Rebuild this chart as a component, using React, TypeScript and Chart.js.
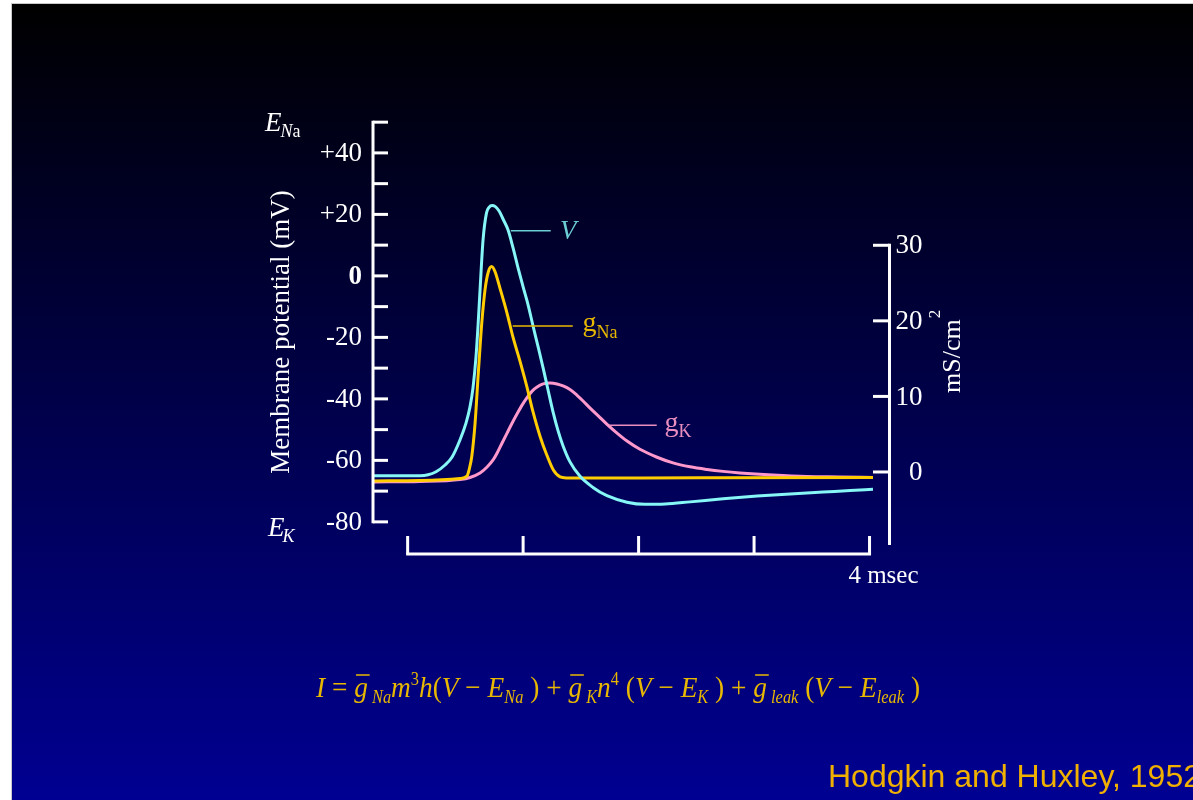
import React, { useEffect, useRef } from 'react';
import { Chart, registerables } from 'chart.js';

Chart.register(...registerables);

// ---------- data (time in msec, V in mV, conductances in mS/cm²) ----------
const vTime = [-0.30, -0.066, 0.107, 0.177, 0.246, 0.324, 0.385, 0.454, 0.506, 0.540, 0.566, 0.592, 0.610, 0.627, 0.653, 0.683, 0.705, 0.731, 0.757, 0.792, 0.826, 0.869, 0.913, 0.956, 1.000, 1.043, 1.086, 1.130, 1.173, 1.216, 1.259, 1.303, 1.346, 1.406, 1.493, 1.605, 1.726, 1.899, 2.055, 2.229, 2.446, 2.732, 3.026, 3.312, 3.598, 3.832, 4.03];
const vMillivolts = [-65.0, -65.0, -65.0, -64.7, -63.7, -61.5, -58.9, -53.3, -47.8, -42.6, -36.4, -26.3, -15.9, -4.6, 11.7, 20.5, 22.3, 22.9, 22.6, 21.1, 18.5, 15.0, 9.1, 2.6, -3.6, -9.4, -16.3, -23.1, -29.9, -37.1, -44.2, -50.4, -55.3, -60.5, -65.2, -68.8, -71.5, -73.6, -74.3, -74.2, -73.5, -72.5, -71.6, -70.9, -70.3, -69.8, -69.4];

const gNaTime = [-0.30, 0.107, 0.454, 0.514, 0.536, 0.555, 0.584, 0.612, 0.642, 0.670, 0.699, 0.728, 0.757, 0.800, 0.861, 0.913, 0.974, 1.034, 1.086, 1.147, 1.205, 1.262, 1.320, 1.372, 2.533, 4.03];
const gNaValues = [-1.19, -1.12, -0.86, -0.53, 0.53, 2.02, 6.48, 13.1, 19.7, 24.1, 26.5, 27.2, 26.5, 24.3, 21.0, 17.8, 14.6, 11.2, 7.94, 4.70, 2.25, 0.26, -0.66, -0.79, -0.77, -0.73];

const gKTime = [-0.30, 0.107, 0.454, 0.540, 0.627, 0.688, 0.740, 0.775, 0.818, 0.861, 0.904, 0.948, 0.991, 1.034, 1.078, 1.121, 1.173, 1.234, 1.294, 1.346, 1.406, 1.467, 1.519, 1.580, 1.666, 1.727, 1.813, 1.900, 2.012, 2.160, 2.298, 2.445, 2.593, 2.731, 2.878, 3.164, 3.459, 3.745, 4.03];
const gKValues = [-1.32, -1.26, -1.0, -0.73, -0.13, 0.66, 1.59, 2.51, 3.84, 5.15, 6.45, 7.7, 8.85, 9.85, 10.7, 11.25, 11.65, 11.78, 11.65, 11.38, 10.9, 10.15, 9.4, 8.45, 7.2, 6.3, 5.15, 4.1, 3.0, 1.95, 1.2, 0.68, 0.33, 0.08, -0.12, -0.40, -0.60, -0.66, -0.73];

// ---------- axis ticks & labels ----------
const leftTickValues = [50, 40, 30, 20, 10, 0, -10, -20, -30, -40, -50, -60, -70, -80];
const leftLabelValues = [40, 20, 0, -20, -40, -60, -80];
const leftLabels = ['+40', '+20', '0', '-20', '-40', '-60', '-80'];
const rightTickValues = [0, 10, 20, 30];
const rightLabels = ['0', '10', '20', '30'];
const scaleBarTicks = [0, 1, 2, 3, 4];
const scaleBarLabel = '4 msec';
const yTitle = 'Membrane potential (mV)';
const citation = 'Hodgkin and Huxley, 1952';

const SERIF = "'Liberation Serif', 'Times New Roman', serif";
const SANS = "'Liberation Sans', Arial, sans-serif";

const CYAN = '#86F6F6';
const GOLD = '#FFCC00';
const PINK = '#FF99CC';
const CYAN_LABEL = '#6CCDD4';
const GOLD_LABEL = '#E8B800';
const PINK_LABEL = '#EA8EC0';

type Seg = { t: string; kind: 'i' | 'n' | 'sub' | 'sup'; bar?: boolean };
const equation: Seg[] = [
  { t: 'I', kind: 'i' }, { t: ' = ', kind: 'n' },
  { t: 'g', kind: 'i', bar: true }, { t: ' Na', kind: 'sub' }, { t: 'm', kind: 'i' }, { t: '3', kind: 'sup' }, { t: 'h', kind: 'i' },
  { t: '(', kind: 'n' }, { t: 'V', kind: 'i' }, { t: ' − ', kind: 'n' }, { t: 'E', kind: 'i' }, { t: 'Na', kind: 'sub' }, { t: ' )', kind: 'n' },
  { t: ' + ', kind: 'n' },
  { t: 'g', kind: 'i', bar: true }, { t: ' K', kind: 'sub' }, { t: 'n', kind: 'i' }, { t: '4', kind: 'sup' },
  { t: ' (', kind: 'n' }, { t: 'V', kind: 'i' }, { t: ' − ', kind: 'n' }, { t: 'E', kind: 'i' }, { t: 'K', kind: 'sub' }, { t: ' )', kind: 'n' },
  { t: ' + ', kind: 'n' },
  { t: 'g', kind: 'i', bar: true }, { t: ' leak', kind: 'sub' },
  { t: ' (', kind: 'n' }, { t: 'V', kind: 'i' }, { t: ' − ', kind: 'n' }, { t: 'E', kind: 'i' }, { t: 'leak', kind: 'sub' }, { t: ' )', kind: 'n' },
];

function segFont(kind: Seg['kind']) {
  if (kind === 'i') return `italic 30px ${SERIF}`;
  if (kind === 'n') return `30px ${SERIF}`;
  if (kind === 'sub') return `italic 18px ${SERIF}`;
  return `18px ${SERIF}`;
}

const decorPlugin = {
  id: 'decor',
  afterDatasetsDraw(chart: any) {
    const { ctx, chartArea, scales } = chart;
    const xs = scales.x;
    const yv = scales.yV;
    const yg = scales.yG;
    ctx.save();

    // ---- left axis ----
    ctx.strokeStyle = '#ffffff';
    ctx.fillStyle = '#ffffff';
    ctx.lineWidth = 3;
    const ax = chartArea.left;
    ctx.beginPath();
    ctx.moveTo(ax, yv.getPixelForValue(50) - 1.5);
    ctx.lineTo(ax, yv.getPixelForValue(-80) + 1.5);
    ctx.stroke();
    leftTickValues.forEach((v) => {
      const y = yv.getPixelForValue(v);
      ctx.beginPath();
      ctx.moveTo(ax, y);
      ctx.lineTo(ax + 15, y);
      ctx.stroke();
    });
    ctx.textAlign = 'right';
    ctx.textBaseline = 'middle';
    leftLabelValues.forEach((v, i) => {
      ctx.font = (v === 0 ? 'bold ' : '') + `27px ${SERIF}`;
      ctx.fillText(leftLabels[i], ax - 11, yv.getPixelForValue(v) + 1);
    });

    // E_Na / E_K
    ctx.textAlign = 'left';
    ctx.textBaseline = 'alphabetic';
    ctx.font = `italic 27px ${SERIF}`;
    ctx.fillText('E', 265, 131);
    let w = ctx.measureText('E').width;
    ctx.font = `italic 18px ${SERIF}`;
    ctx.fillText('N', 265 + w - 1, 137);
    const wn = ctx.measureText('N').width;
    ctx.font = `18px ${SERIF}`;
    ctx.fillText('a', 265 + w - 1 + wn, 137);
    ctx.font = `italic 27px ${SERIF}`;
    ctx.fillText('E', 268, 536);
    w = ctx.measureText('E').width;
    ctx.font = `italic 18px ${SERIF}`;
    ctx.fillText('K', 268 + w - 2, 542);

    // y title
    ctx.save();
    ctx.translate(289, 332);
    ctx.rotate(-Math.PI / 2);
    ctx.textAlign = 'center';
    ctx.font = `27px ${SERIF}`;
    ctx.fillText(yTitle, 0, 0);
    ctx.restore();

    // ---- right axis ----
    const rx = chartArea.right + 16.5;
    ctx.beginPath();
    ctx.moveTo(rx, yg.getPixelForValue(30) - 1.5);
    ctx.lineTo(rx, chartArea.bottom - 3);
    ctx.stroke();
    rightTickValues.forEach((v) => {
      const y = yg.getPixelForValue(v);
      ctx.beginPath();
      ctx.moveTo(chartArea.right, y);
      ctx.lineTo(rx, y);
      ctx.stroke();
    });
    ctx.textAlign = 'right';
    ctx.textBaseline = 'middle';
    ctx.font = `27px ${SERIF}`;
    rightTickValues.forEach((v, i) => {
      ctx.fillText(rightLabels[i], rx + 33, yg.getPixelForValue(v) + 1);
    });
    ctx.save();
    ctx.translate(960, 393);
    ctx.rotate(-Math.PI / 2);
    ctx.textAlign = 'left';
    ctx.textBaseline = 'alphabetic';
    ctx.font = `26px ${SERIF}`;
    ctx.fillText('mS/cm', 0, 0);
    const wm = ctx.measureText('mS/cm').width;
    ctx.font = `17px ${SERIF}`;
    ctx.fillText('2', wm + 1, -20);
    ctx.restore();

    // ---- time scale bar ----
    const by = chartArea.bottom + 6;
    ctx.beginPath();
    ctx.moveTo(xs.getPixelForValue(0) - 1.5, by);
    ctx.lineTo(xs.getPixelForValue(4) + 1.5, by);
    ctx.stroke();
    scaleBarTicks.forEach((t) => {
      const x = xs.getPixelForValue(t);
      ctx.beginPath();
      ctx.moveTo(x, by);
      ctx.lineTo(x, by - 18);
      ctx.stroke();
    });
    ctx.textAlign = 'right';
    ctx.textBaseline = 'alphabetic';
    ctx.font = `25px ${SERIF}`;
    ctx.fillText(scaleBarLabel, xs.getPixelForValue(4) + 49, by + 29);

    // ---- curve labels ----
    ctx.lineWidth = 1.5;
    ctx.textAlign = 'left';
    // V
    let ly = yv.getPixelForValue(14.7);
    ctx.strokeStyle = CYAN_LABEL;
    ctx.fillStyle = CYAN_LABEL;
    ctx.beginPath();
    ctx.moveTo(xs.getPixelForValue(0.893), ly);
    ctx.lineTo(xs.getPixelForValue(1.239), ly);
    ctx.stroke();
    ctx.font = `italic 27px ${SERIF}`;
    ctx.fillText('V', xs.getPixelForValue(1.32), ly + 8);
    // gNa
    ly = yg.getPixelForValue(19.32);
    ctx.strokeStyle = GOLD_LABEL;
    ctx.fillStyle = GOLD_LABEL;
    ctx.beginPath();
    ctx.moveTo(xs.getPixelForValue(0.91), ly);
    ctx.lineTo(xs.getPixelForValue(1.43), ly);
    ctx.stroke();
    let lx = xs.getPixelForValue(1.515);
    ctx.font = `28px ${SERIF}`;
    ctx.fillText('g', lx, ly + 5);
    w = ctx.measureText('g').width;
    ctx.font = `18px ${SERIF}`;
    ctx.fillText('Na', lx + w, ly + 12);
    // gK
    ly = yg.getPixelForValue(6.18);
    ctx.strokeStyle = PINK_LABEL;
    ctx.fillStyle = PINK_LABEL;
    ctx.beginPath();
    ctx.moveTo(xs.getPixelForValue(1.744), ly);
    ctx.lineTo(xs.getPixelForValue(2.157), ly);
    ctx.stroke();
    lx = xs.getPixelForValue(2.225);
    ctx.font = `28px ${SERIF}`;
    ctx.fillText('g', lx, ly + 6);
    w = ctx.measureText('g').width;
    ctx.font = `18px ${SERIF}`;
    ctx.fillText('K', lx + w, ly + 12);

    // ---- equation ----
    let total = 0;
    const widths = equation.map((s) => {
      ctx.font = segFont(s.kind);
      const m = ctx.measureText(s.t).width;
      total += m;
      return m;
    });
    const eqLeft = 316;
    const eqWidth = 604;
    const base = 697;
    const sx = eqWidth / total;
    ctx.save();
    ctx.translate(eqLeft, 0);
    ctx.scale(sx, 1);
    ctx.fillStyle = GOLD_LABEL;
    ctx.strokeStyle = GOLD_LABEL;
    ctx.lineWidth = 1.5;
    let cx = 0;
    equation.forEach((s, i) => {
      ctx.font = segFont(s.kind);
      const dy = s.kind === 'sub' ? 6 : s.kind === 'sup' ? -12 : 0;
      ctx.fillText(s.t, cx, base + dy);
      if (s.bar) {
        ctx.beginPath();
        ctx.moveTo(cx + 2, base - 22);
        ctx.lineTo(cx + widths[i] + 2, base - 22);
        ctx.stroke();
      }
      cx += widths[i];
    });
    ctx.restore();

    // ---- citation ----
    ctx.fillStyle = '#F0B000';
    ctx.font = `32px ${SANS}`;
    ctx.textAlign = 'left';
    ctx.fillText(citation, 828, 787);

    ctx.restore();
  },
};

const backgroundPlugin = {
  id: 'slideBackground',
  beforeDraw(chart: any) {
    const { ctx, width, height } = chart;
    ctx.save();
    ctx.fillStyle = '#ffffff';
    ctx.fillRect(0, 0, width, height);
    ctx.fillStyle = '#c8c8c8';
    ctx.fillRect(11, 3, width - 11, height - 3);
    const g = ctx.createLinearGradient(0, 4, 0, height);
    g.addColorStop(0, '#000000');
    g.addColorStop(1, '#000092');
    ctx.fillStyle = g;
    ctx.fillRect(12, 4, width - 12, height - 4);
    ctx.restore();
  },
};

export default function App() {
  const ref = useRef<HTMLCanvasElement>(null);

  useEffect(() => {
    const canvas = ref.current;
    if (!canvas) return;
    const toPts = (xs: number[], ys: number[]) => xs.map((x, i) => ({ x, y: ys[i] }));
    const chart = new Chart(canvas, {
      type: 'line',
      data: {
        datasets: [
          {
            label: 'V',
            data: toPts(vTime, vMillivolts),
            yAxisID: 'yV',
            borderColor: CYAN,
            borderWidth: 3,
            pointRadius: 0,
            cubicInterpolationMode: 'monotone',
            fill: false,
          },
          {
            label: 'gNa',
            data: toPts(gNaTime, gNaValues),
            yAxisID: 'yG',
            borderColor: GOLD,
            borderWidth: 3,
            pointRadius: 0,
            cubicInterpolationMode: 'monotone',
            fill: false,
          },
          {
            label: 'gK',
            data: toPts(gKTime, gKValues),
            yAxisID: 'yG',
            borderColor: PINK,
            borderWidth: 3,
            pointRadius: 0,
            cubicInterpolationMode: 'monotone',
            fill: false,
          },
        ],
      },
      options: {
        responsive: false,
        animation: false,
        devicePixelRatio: 1,
        layout: { padding: { left: 373, top: 124, right: 320, bottom: 252 } },
        scales: {
          x: { type: 'linear', min: -0.3, max: 4.03, display: false },
          yV: { type: 'linear', min: -88.5, max: 49.4, display: false },
          yG: { type: 'linear', min: -10.06, max: 46.05, display: false },
        },
        plugins: {
          legend: { display: false },
          tooltip: { enabled: false },
          title: { display: false },
        },
      },
      plugins: [backgroundPlugin, decorPlugin],
    } as any);
    return () => chart.destroy();
  }, []);

  return (
    <div style={{ position: 'absolute', left: 0, top: 0, width: 1193, height: 800 }}>
      <canvas ref={ref} width={1193} height={800} style={{ display: 'block', width: 1193, height: 800 }} />
    </div>
  );
}
